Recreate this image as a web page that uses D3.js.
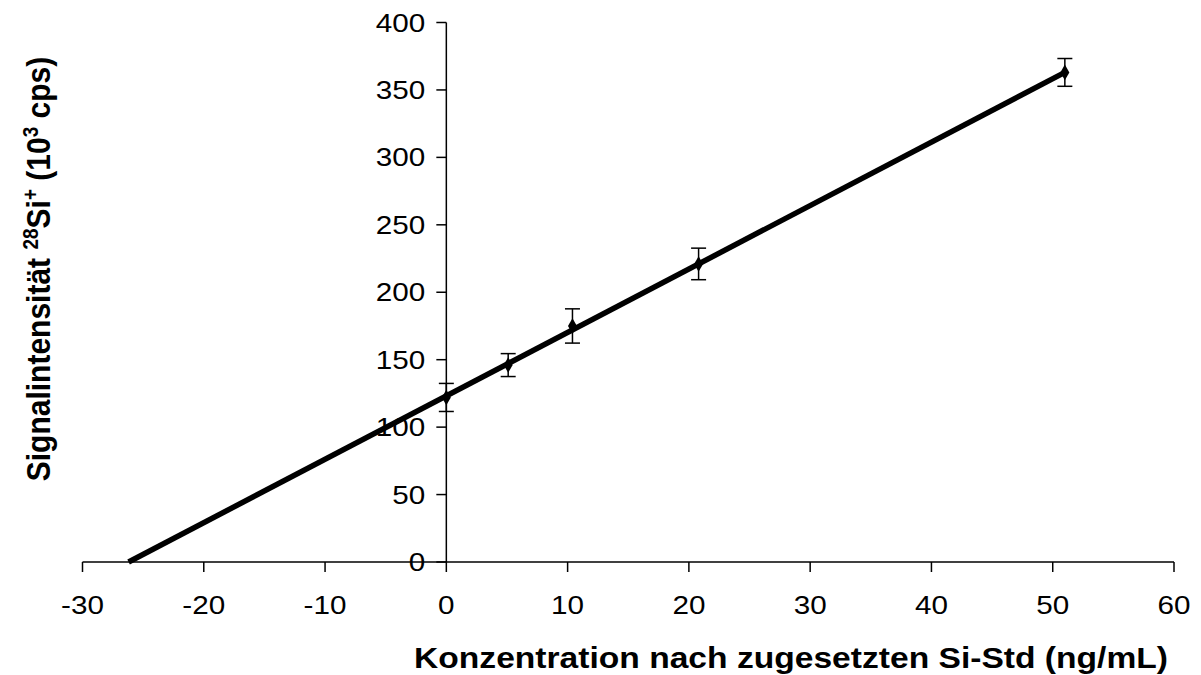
<!DOCTYPE html>
<html>
<head>
<meta charset="utf-8">
<script src="https://cdn.jsdelivr.net/npm/d3@7"></script>
<style>
body { margin: 0; background: #fff; }
svg { display: block; font-family: "Liberation Sans", Arial, sans-serif; }
</style>
</head>
<body>
<svg width="1201" height="675"></svg>
<script>
// standard addition data
var conc = [0, 5.1, 10.4, 20.8, 51];
var signal = [122, 146, 175, 221, 363];
var errs = [10.4, 8.5, 12.7, 11.7, 10.3];
var xTicks = [-30, -20, -10, 0, 10, 20, 30, 40, 50, 60];
var yTicks = [0, 50, 100, 150, 200, 250, 300, 350, 400];
// regression line end points (x intercept and last standard)
var fitX = [-26.2, 51];
var fitY = [0, 363];

var svg = d3.select("svg");
var sx = 1.12; // text in the picture is stretched horizontally

var x = d3.scaleLinear().domain([-30, 60]).range([82.5, 1174]);
var y = d3.scaleLinear().domain([0, 400]).range([562, 22.5]);

function label(g, tx, ty, str, anchor, size, weight) {
    return g.append("text")
        .attr("transform", "translate(" + tx + "," + ty + ") scale(" + sx + ",1)")
        .attr("text-anchor", anchor)
        .style("font-size", size + "px")
        .style("font-weight", weight || "normal")
        .text(str);
}

// x axis
svg.append("line")
    .attr("x1", x(-30)).attr("x2", x(60))
    .attr("y1", y(0)).attr("y2", y(0))
    .style("stroke", "black").style("stroke-width", 1.5);
xTicks.forEach(function(t) {
    svg.append("line")
        .attr("x1", x(t)).attr("x2", x(t))
        .attr("y1", y(0)).attr("y2", y(0) + 10)
        .style("stroke", "black").style("stroke-width", 1.5);
    label(svg, x(t), 614, t, "middle", 26.5);
});

// y axis
svg.append("line")
    .attr("x1", x(0)).attr("x2", x(0))
    .attr("y1", y(400)).attr("y2", y(0))
    .style("stroke", "black").style("stroke-width", 1.5);
yTicks.forEach(function(t) {
    svg.append("line")
        .attr("x1", x(0) - 10).attr("x2", x(0))
        .attr("y1", y(t)).attr("y2", y(t))
        .style("stroke", "black").style("stroke-width", 1.5);
    label(svg, x(0) - 21, y(t) + 9, t, "end", 26.5);
});

// regression line
svg.append("line")
    .attr("x1", x(fitX[0])).attr("y1", y(fitY[0]))
    .attr("x2", x(fitX[1])).attr("y2", y(fitY[1]))
    .style("stroke", "black").style("stroke-width", 5.5);

// error bars
conc.forEach(function(c, i) {
    var cx = x(c);
    var top = y(signal[i] + errs[i]), bot = y(signal[i] - errs[i]);
    svg.append("line").attr("x1", cx).attr("x2", cx).attr("y1", top).attr("y2", bot)
        .style("stroke", "black").style("stroke-width", 1.5);
    [top, bot].forEach(function(yy) {
        svg.append("line").attr("x1", cx - 7.5).attr("x2", cx + 7.5).attr("y1", yy).attr("y2", yy)
            .style("stroke", "black").style("stroke-width", 1.5);
    });
});

// markers
svg.selectAll(".pt").data(conc).enter().append("path")
    .attr("class", "pt")
    .attr("d", d3.symbol().type(d3.symbolDiamond).size(70))
    .attr("transform", function(d, i) { return "translate(" + x(d) + "," + y(signal[i]) + ")"; })
    .style("fill", "black");

// x title
label(svg, 1168, 668, "Konzentration nach zugesetzten Si-Std (ng/mL)", "end", 30, "bold");

// y title
var yt = svg.append("text")
    .attr("transform", "translate(50,269) scale(" + sx + ",1) rotate(-90)")
    .attr("text-anchor", "middle")
    .style("font-size", "30px")
    .style("font-weight", "bold");
yt.append("tspan").text("Signalintensität  ");
yt.append("tspan").attr("baseline-shift", "super").style("font-size", "19px").text("28");
yt.append("tspan").text("Si");
yt.append("tspan").attr("baseline-shift", "super").style("font-size", "19px").text("+");
yt.append("tspan").text(" (10");
yt.append("tspan").attr("baseline-shift", "super").style("font-size", "19px").text("3");
yt.append("tspan").text(" cps)");
</script>
</body>
</html>
